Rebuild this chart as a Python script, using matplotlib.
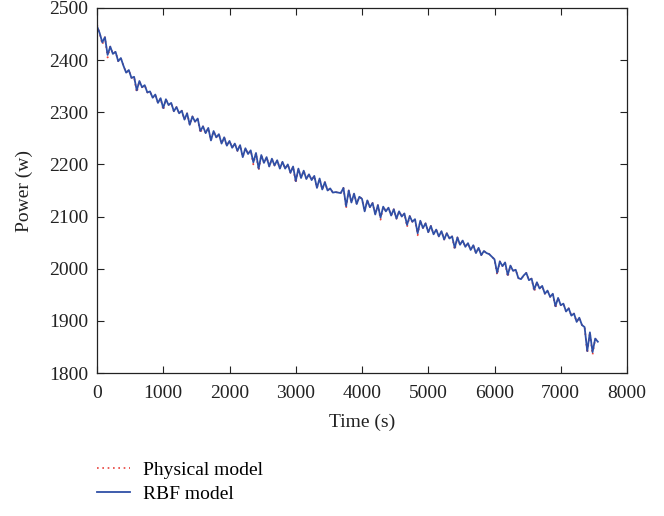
import numpy as np
import matplotlib
matplotlib.use("Agg")
import matplotlib.pyplot as plt

plt.rcParams["font.family"] = ["Liberation Serif", "DejaVu Serif"]
plt.rcParams["font.size"] = 14

# Sampling times (s) and RBF model output power (W)
time_s = np.arange(0, 7561, 40)

rbf_power = [
    2465, 2452, 2434, 2444, 2410, 2426, 2412, 2416, 2398, 2404,
    2389, 2376, 2381, 2366, 2368, 2342, 2360, 2348, 2352, 2338,
    2340, 2328, 2334, 2318, 2327, 2308, 2325, 2314, 2318, 2302,
    2310, 2298, 2303, 2286, 2298, 2276, 2292, 2282, 2288, 2264,
    2273, 2260, 2270, 2246, 2264, 2252, 2258, 2240, 2252, 2236,
    2245, 2232, 2240, 2226, 2237, 2214, 2231, 2220, 2227, 2204,
    2222, 2192, 2218, 2203, 2214, 2196, 2211, 2198, 2208, 2192,
    2205, 2192, 2200, 2184, 2196, 2168, 2192, 2174, 2188, 2172,
    2181, 2170, 2178, 2155, 2173, 2152, 2166, 2150, 2154, 2146,
    2147, 2146, 2145, 2155, 2120, 2150, 2127, 2144, 2124, 2138,
    2134, 2110, 2131, 2118, 2126, 2104, 2122, 2098, 2119, 2110,
    2117, 2102, 2114, 2096, 2110, 2100, 2106, 2084, 2101, 2090,
    2095, 2068, 2092, 2078, 2087, 2070, 2082, 2066, 2075, 2062,
    2072, 2056, 2068, 2058, 2062, 2040, 2060, 2046, 2054, 2042,
    2049, 2036, 2045, 2030, 2040, 2026, 2034, 2030, 2028, 2023,
    2018, 1992, 2014, 2005, 2012, 1988, 2006, 1996, 1998, 1982,
    1980, 1987, 1992, 1978, 1981, 1960, 1974, 1962, 1967, 1952,
    1958, 1946, 1952, 1928, 1944, 1930, 1933, 1918, 1924, 1910,
    1914, 1898, 1906, 1892, 1888, 1842, 1878, 1840, 1866, 1860,
]

# Physical model output: same as the RBF curve except at these samples
physical_diff = {
    0: 2468, 2: 2430, 4: 2405, 15: 2338, 25: 2304, 39: 2260,
    59: 2200, 61: 2188, 75: 2164, 94: 2116, 107: 2094, 117: 2080,
    121: 2064, 135: 2036, 151: 1988, 155: 1984, 165: 1956,
    173: 1924, 185: 1838, 187: 1835,
}
physical_power = list(rbf_power)
for idx, val in physical_diff.items():
    physical_power[idx] = val

x_ticks = [0, 1000, 2000, 3000, 4000, 5000, 6000, 7000, 8000]
y_ticks = [1800, 1900, 2000, 2100, 2200, 2300, 2400, 2500]

fig = plt.figure(figsize=(6.64, 5.16), dpi=100)
ax = fig.add_axes([97 / 664, 1 - 373 / 516, 530 / 664, 365 / 516])

ax.plot(time_s, physical_power, linestyle=(0, (1, 2.2)), color="#e8423c",
        linewidth=1.2, label="Physical model")
ax.plot(time_s, rbf_power, linestyle="-", color="#2f4fa6",
        linewidth=1.3, label="RBF model")

ax.set_xlim(0, 8000)
ax.set_ylim(1800, 2500)
ax.set_xticks(x_ticks)
ax.set_yticks(y_ticks)
ax.tick_params(direction="in", top=True, right=True, length=5, width=0.8,
               colors="#222222", labelsize=14)
ax.tick_params(axis="x", pad=9)
ax.tick_params(axis="y", pad=6.5)
for sp in ax.spines.values():
    sp.set_linewidth(0.9)
    sp.set_color("#222222")

ax.set_xlabel("Time (s)", fontsize=14, color="#222222", labelpad=8)
ax.set_ylabel("Power (w)", fontsize=14, color="#222222", labelpad=11)

fig.legend(loc="upper left", bbox_to_anchor=(97 / 664, 1 - 461 / 516),
           frameon=False, fontsize=14, handlelength=1.7, handletextpad=0.67,
           labelspacing=0.33, borderaxespad=0, borderpad=0)

fig.savefig("out.png", dpi=100)
